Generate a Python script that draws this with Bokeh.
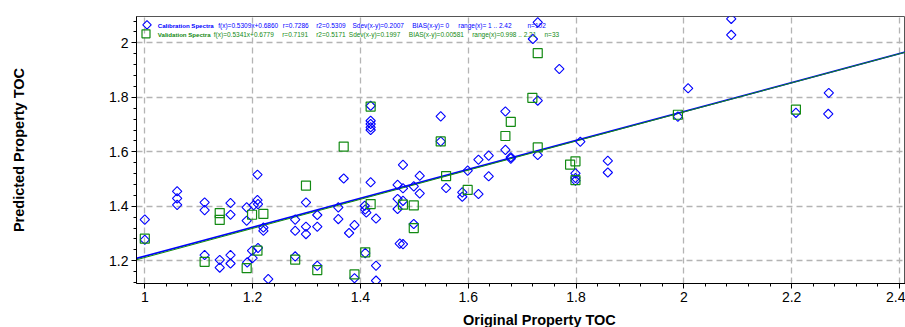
import numpy as np
from bokeh.plotting import figure
from bokeh.models import FixedTicker, Range1d, Label, Div
from bokeh.layouts import column
from bokeh.embed import file_html
from bokeh.resources import INLINE

# ---------------- data ----------------
cal_x = [1.000, 1.000, 1.060, 1.060, 1.060, 1.111, 1.111, 1.111, 1.139, 1.139,
         1.159, 1.159, 1.159, 1.159, 1.189, 1.189, 1.190, 1.199, 1.200, 1.202,
         1.209, 1.209, 1.210, 1.210, 1.220, 1.220, 1.229, 1.279, 1.279, 1.279,
         1.299, 1.299, 1.299, 1.320, 1.320, 1.320, 1.359, 1.359, 1.369, 1.379,
         1.389, 1.389, 1.408, 1.409, 1.411, 1.409, 1.419, 1.419, 1.419, 1.419,
         1.419, 1.419, 1.429, 1.429, 1.429, 1.469, 1.479, 1.479, 1.469, 1.479,
         1.469, 1.479, 1.473, 1.499, 1.499, 1.510, 1.510, 1.549, 1.549, 1.559,
         1.589, 1.589, 1.599, 1.619, 1.619, 1.638, 1.638, 1.669, 1.669, 1.679,
         1.679, 1.729, 1.720, 1.729, 1.729, 1.769, 1.799, 1.799, 1.799, 1.808,
         1.859, 1.859, 1.989, 2.008, 2.088, 2.088, 2.208, 2.269, 2.268, 2.420]
cal_y = [1.351, 1.277, 1.455, 1.429, 1.405, 1.414, 1.386, 1.221, 1.203, 1.175,
         1.412, 1.369, 1.221, 1.190, 1.396, 1.347, 1.194, 1.237, 1.210, 1.404,
         1.516, 1.423, 1.408, 1.247, 1.322, 1.310, 1.133, 1.351, 1.310, 1.216,
         1.414, 1.325, 1.298, 1.368, 1.325, 1.182, 1.396, 1.353, 1.502, 1.302,
         1.331, 1.136, 1.402, 1.388, 1.377, 1.228, 1.488, 1.769, 1.714, 1.702,
         1.690, 1.680, 1.355, 1.182, 1.127, 1.479, 1.552, 1.466, 1.427, 1.420,
         1.390, 1.261, 1.263, 1.473, 1.335, 1.512, 1.447, 1.730, 1.638, 1.467,
         1.451, 1.435, 1.531, 1.571, 1.445, 1.586, 1.510, 1.748, 1.607, 1.580,
         1.575, 2.075, 2.014, 1.788, 1.588, 1.904, 1.521, 1.504, 1.494, 1.637,
         1.567, 1.524, 1.729, 1.833, 2.088, 2.029, 1.743, 1.816, 1.739, 1.827]

val_x = [1.000, 1.111, 1.139, 1.139, 1.189, 1.199, 1.209, 1.220, 1.279, 1.299,
         1.320, 1.369, 1.389, 1.409, 1.419, 1.419, 1.479, 1.499, 1.499, 1.549,
         1.559, 1.599, 1.669, 1.679, 1.719, 1.729, 1.729, 1.789, 1.799, 1.799,
         1.989, 2.208]
val_y = [1.281, 1.196, 1.375, 1.350, 1.173, 1.369, 1.237, 1.372, 1.204, 1.476,
         1.166, 1.619, 1.150, 1.231, 1.408, 1.766, 1.406, 1.403, 1.320, 1.638,
         1.511, 1.460, 1.658, 1.710, 1.798, 1.962, 1.616, 1.553, 1.565, 1.496,
         1.736, 1.755]

cal_slope, cal_intercept = 0.5309, 0.6860
val_slope, val_intercept = 0.5341, 0.6779

x_ticks = [1.0, 1.2, 1.4, 1.6, 1.8, 2.0, 2.2, 2.4]
x_tick_labels = ["1", "1.2", "1.4", "1.6", "1.8", "2", "2.2", "2.4"]
y_ticks = [1.2, 1.4, 1.6, 1.8, 2.0]
y_tick_labels = ["1.2", "1.4", "1.6", "1.8", "2"]

cal_legend = ["Calibration Spectra", "f(x)=0.5309x+0.6860", "r=0.7286", "r2=0.5309",
              "Sdev(x-y)=0.2007", "BIAS(x-y)=  0", "range(x)=  1 .. 2.42", "n=102"]
val_legend = ["Validation Spectra", "f(x)=0.5341x+0.6779", "r=0.7191", "r2=0.5171",
              "Sdev(x-y)=0.1997", "BIAS(x-y)=0.00581", "range(x)=0.998 .. 2.21", "n=33"]

x_label = "Original Property TOC"
y_label = "Predicted Property TOC"

# ---------------- layout / style ----------------
W, H = 905, 327
LABEL_H = 16                          # strip below the figure for the x title
PH = H - LABEL_H                      # figure height
FL, FT, FR, FB = 136, 16, 905, 283   # frame edges in pixels
X0, X1 = 0.9846, 2.4113
Y0, Y1 = 1.1166, 2.0966

BLUE = "#0000ff"
GREEN = "#138a13"
FONT = "Liberation Sans"


def px2x(px):
    return X0 + (px - FL) / (FR - FL) * (X1 - X0)


def py2y(py):
    return Y1 - (py - FT) / (FB - FT) * (Y1 - Y0)


p = figure(width=W, height=PH, output_backend="svg", toolbar_location=None,
           x_range=Range1d(X0, X1), y_range=Range1d(Y0, Y1),
           min_border_left=FL, min_border_right=0, min_border_top=FT,
           min_border_bottom=PH - FB)
p.background_fill_color = "white"
p.border_fill_color = "white"
p.outline_line_color = "#555555"
p.outline_line_width = 1

x_minor = [round(1.0 + 0.04 * i, 2) for i in range(-1, 37)]
y_minor = [round(1.12 + 0.04 * i, 2) for i in range(0, 25)]
p.xaxis.ticker = FixedTicker(ticks=x_ticks, minor_ticks=x_minor)
p.yaxis.ticker = FixedTicker(ticks=y_ticks, minor_ticks=y_minor)
p.xaxis.major_label_overrides = dict(zip(x_ticks, x_tick_labels))
p.yaxis.major_label_overrides = dict(zip(y_ticks, y_tick_labels))

for ax in (p.xaxis, p.yaxis):
    ax.axis_line_color = "black"
    ax.axis_line_width = 1
    ax.major_tick_line_color = "black"
    ax.minor_tick_line_color = "black"
    ax.major_tick_out = 5
    ax.major_tick_in = 0
    ax.minor_tick_out = 3
    ax.minor_tick_in = 0
    ax.major_label_text_font = FONT
    ax.major_label_text_font_size = "14px"
    ax.major_label_text_color = "black"
    ax.major_label_standoff = 3

p.yaxis.axis_label = y_label
p.yaxis.axis_label_text_font = FONT
p.yaxis.axis_label_text_font_size = "14.5px"
p.yaxis.axis_label_text_font_style = "bold"
p.yaxis.axis_label_text_color = "black"
p.yaxis.axis_label_standoff = 79

for g in (p.xgrid, p.ygrid):
    g.grid_line_color = "#b4b4b4"
    g.grid_line_dash = "6 4"
    g.grid_line_width = 1.3

# regression lines
xs = np.array([X0, X1])
p.line(xs, cal_slope * xs + cal_intercept, line_color=BLUE, line_width=1.7)
p.line(xs, val_slope * xs + val_intercept, line_color=GREEN, line_width=1.0)

# points
p.scatter(cal_x, cal_y, marker="square", angle=np.pi / 4, size=6.6,
          fill_color=None, line_color=BLUE, line_width=1.1)
p.scatter(val_x, val_y, marker="square", size=9,
          fill_color=None, line_color=GREEN, line_width=1.2)

# legend (manual, two rows)
cal_pos = [157.3, 217.7, 282.3, 315.7, 352.0, 411.7, 457.8, 527.0]
val_pos = [157.3, 213.3, 281.7, 315.7, 348.3, 408.3, 471.7, 544.0]
rows = [(cal_legend, cal_pos, 24.5, BLUE), (val_legend, val_pos, 33.7, GREEN)]
for texts, poss, py, col in rows:
    for i, (t, px) in enumerate(zip(texts, poss)):
        p.add_layout(Label(x=px2x(px), y=py2y(py), text=t, text_font=FONT,
                           text_font_size="6.1px" if i == 0 else "6.5px",
                           text_font_style="bold" if i == 0 else "normal",
                           text_color=col, text_baseline="middle",
                           text_align="left"))

p.scatter([px2x(146.5)], [py2y(24.3)], marker="square", angle=np.pi / 4, size=6.0,
          fill_color=None, line_color=BLUE, line_width=1.1)
p.scatter([px2x(145.5)], [py2y(33.3)], marker="square", size=8,
          fill_color=None, line_color=GREEN, line_width=1.2)

# x axis title (the reference image is cropped, so it is not centred on the frame)
xtitle = Div(
    text=('<div style="padding-left:463px;padding-top:2px;'
          "font-family:'Liberation Sans';font-size:14.5px;font-weight:bold;"
          'line-height:15px;white-space:nowrap;color:black;">'
          + x_label + '</div>'),
    width=W, height=LABEL_H, margin=(0, 0, 0, 0))

layout = column(p, xtitle, spacing=0)
open("out.html", "w").write(file_html(layout, INLINE))
